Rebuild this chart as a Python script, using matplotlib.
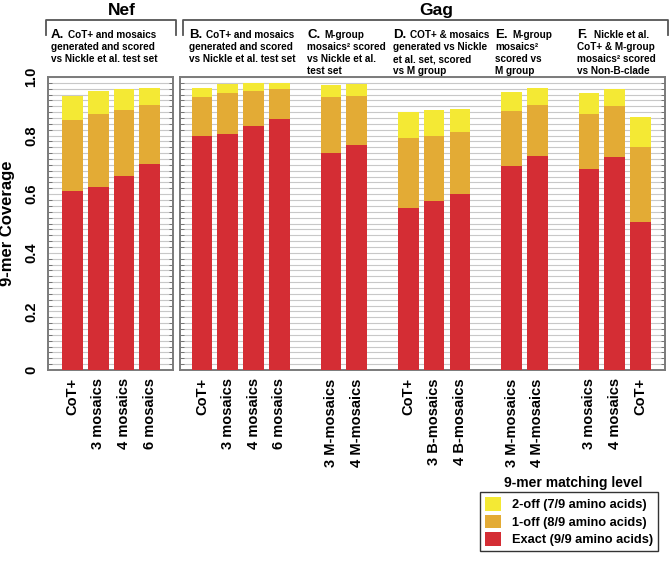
import numpy as np
import matplotlib
matplotlib.use("Agg")
import matplotlib.pyplot as plt
from matplotlib.patches import Patch
from matplotlib.lines import Line2D

plt.rcParams["font.family"] = ["Liberation Sans", "DejaVu Sans"]
plt.rcParams["font.weight"] = "bold"

# ---------------- data ----------------
nef_labels = ["CoT+", "3 mosaics", "4 mosaics", "6 mosaics"]
nef_exact = [0.610, 0.624, 0.662, 0.703]
nef_1off = [0.853, 0.875, 0.888, 0.905]   # cumulative tops
nef_2off = [0.935, 0.952, 0.958, 0.962]

gag_labels = ["CoT+", "3 mosaics", "4 mosaics", "6 mosaics",
              "3 M-mosaics", "4 M-mosaics",
              "CoT+", "3 B-mosaics", "4 B-mosaics",
              "3 M-mosaics", "4 M-mosaics",
              "3 mosaics", "4 mosaics", "CoT+"]
gag_pos = [0, 1, 2, 3, 5, 6, 8, 9, 10, 12, 13, 15, 16, 17]
gag_exact = [0.799, 0.805, 0.833, 0.858, 0.741, 0.768,
             0.554, 0.577, 0.601, 0.696, 0.731, 0.687, 0.727, 0.505]
gag_1off = [0.933, 0.946, 0.952, 0.958, 0.933, 0.935,
            0.793, 0.799, 0.811, 0.884, 0.906, 0.875, 0.900, 0.762]
gag_2off = [0.962, 0.975, 0.979, 0.981, 0.973, 0.975,
            0.881, 0.887, 0.891, 0.950, 0.962, 0.946, 0.959, 0.864]

panel_titles = [
    (51, "A.", ["CoT+ and mosaics", "generated and scored", "vs Nickle et al. test set"]),
    (189, "B.", ["CoT+ and mosaics", "generated and scored", "vs Nickle et al. test set"]),
    (307, "C.", ["M-group", "mosaics\u00b2 scored", "vs Nickle et al.", "test set"]),
    (393, "D.", ["COT+ & mosaics", "generated vs Nickle", "et al. set, scored", "vs M group"]),
    (495, "E.", ["M-group", "mosaics\u00b2", "scored vs", "M group"]),
    (577, "F.", ["Nickle et al.", "CoT+ & M-group", "mosaics\u00b2 scored", "vs Non-B-clade"]),
]
legend_labels = ["2-off (7/9 amino acids)", "1-off (8/9 amino acids)", "Exact (9/9 amino acids)"]

C_EXACT = "#D42D34"
C_1OFF = "#E3AB35"
C_2OFF = "#F4E934"

W, H = 669, 563
fig = plt.figure(figsize=(W / 100, H / 100), dpi=100)

def px(x, y):
    return x / W, 1 - y / H

def axes_rect(x0, x1, y0=77, y1=370):
    return [x0 / W, 1 - y1 / H, (x1 - x0) / W, (y1 - y0) / H]

ax_a = fig.add_axes(axes_rect(48, 173))
ax_b = fig.add_axes(axes_rect(180, 665))

def draw_stack(ax, pos, exact, one, two, labels, xlim):
    pos = np.asarray(pos, dtype=float)
    exact = np.asarray(exact)
    one = np.asarray(one)
    two = np.asarray(two)
    ax.bar(pos, exact, width=0.8, color=C_EXACT, zorder=3)
    ax.bar(pos, one - exact, bottom=exact, width=0.8, color=C_1OFF, zorder=3)
    ax.bar(pos, two - one, bottom=one, width=0.8, color=C_2OFF, zorder=3)
    ax.set_xlim(*xlim)
    ax.set_ylim(0, 1.0)
    ax.set_xticks(pos)
    ax.set_xticklabels(labels, rotation=90, fontsize=10.5, fontweight="bold", va="top")
    ax.tick_params(axis="x", length=0, pad=6)
    ax.set_yticks(np.arange(0, 1.001, 0.02), minor=True)
    ax.yaxis.grid(True, which="minor", color="#c8c8c8", lw=0.8, zorder=0)
    ax.yaxis.grid(True, which="major", color="#c8c8c8", lw=0.8, zorder=0)
    ax.tick_params(axis="y", which="minor", direction="in", length=3, color="#666666",
                   left=True, right=True)
    for s in ax.spines.values():
        s.set_color("#7a7a7a")
        s.set_linewidth(1.4)

draw_stack(ax_a, range(len(nef_labels)), nef_exact, nef_1off, nef_2off, nef_labels, (-0.95, 3.9))
draw_stack(ax_b, gag_pos, gag_exact, gag_1off, gag_2off, gag_labels, (-0.85, 17.95))

ax_a.set_yticks([0, 0.2, 0.4, 0.6, 0.8, 1.0])
ax_a.set_yticklabels(["0", "0.2", "0.4", "0.6", "0.8", "1.0"], rotation=90,
                     fontsize=10.5, fontweight="bold", va="center")
ax_a.tick_params(axis="y", which="major", length=0, pad=7)
ax_a.set_ylabel("9-mer Coverage", fontsize=12, fontweight="bold", labelpad=7)
ax_b.set_yticks([0, 0.2, 0.4, 0.6, 0.8, 1.0])
ax_b.set_yticklabels([])
ax_b.tick_params(axis="y", which="major", length=0)

# ---- group brackets
for (x0, x1), name, xc in [((46, 176), "Nef", 122), ((183, 668), "Gag", 436)]:
    xs = [x0, x0, x1, x1]
    ys = [35, 20, 20, 35]
    fig.add_artist(Line2D([x / W for x in xs], [1 - y / H for y in ys],
                          color="#555555", lw=1.3))
    fig.text(*px(xc, 15), name, fontsize=12.5, fontweight="bold", ha="center", va="baseline")

# ---- panel titles
for x, letter, lines in panel_titles:
    fig.text(*px(x, 38), letter, fontsize=9.5, fontweight="bold", va="baseline", ha="left")
    for i, line in enumerate(lines):
        xx = x + 17 if i == 0 else x
        fig.text(*px(xx, 38 + 12 * i), line, fontsize=7.2, fontweight="bold",
                 va="baseline", ha="left")

# ---- legend
handles = [Patch(facecolor=c, edgecolor="none") for c in (C_2OFF, C_1OFF, C_EXACT)]
leg = fig.legend(handles, legend_labels, loc="upper left", bbox_to_anchor=px(480, 492),
                 fontsize=9.2, frameon=True, fancybox=False, borderaxespad=0,
                 handlelength=1.25, handleheight=1.3, handletextpad=0.85,
                 labelspacing=0.25, borderpad=0.4)
leg.get_frame().set_edgecolor("black")
leg.get_frame().set_linewidth(1.0)
for t in leg.get_texts():
    t.set_fontweight("bold")
fig.text(*px(573, 483), "9-mer matching level", fontsize=10, fontweight="bold",
         ha="center", va="center")

fig.savefig("out.png", dpi=100)
